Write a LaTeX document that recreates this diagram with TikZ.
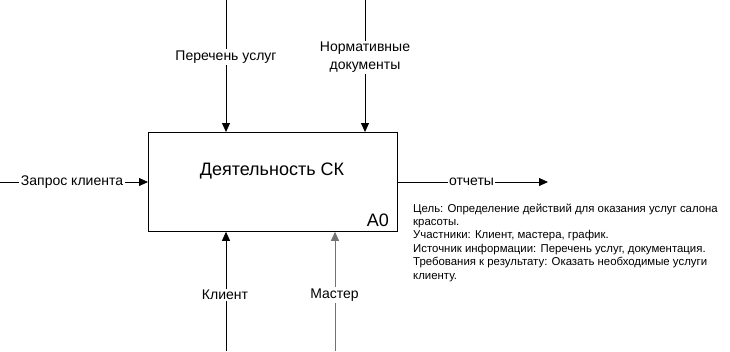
\documentclass[tikz,border=0pt]{standalone}
\usepackage{fontspec}
\setmainfont{Liberation Sans}
\usetikzlibrary{arrows.meta}
\begin{document}
\begin{tikzpicture}[x=1pt,y=-1pt,
  arr/.style={draw=black,line width=0.8pt,-{Triangle[length=9pt,width=8pt]}},
  lbl/.style={fill=white,inner sep=1.5pt,font=\fontsize{14}{18}\selectfont,align=center},
  notetext/.style={anchor=north west,inner sep=0pt,align=left,font=\fontsize{11.4}{13.4}\selectfont}]
\useasboundingbox (0,0) rectangle (730,351);
\node[draw,line width=0.8pt,minimum width=249pt,minimum height=99pt,inner sep=0pt,anchor=north west] (box) at (148,132) {};
\node[font=\fontsize{18}{21}\selectfont] (title) at (272,171) {Деятельность СК};
\node[font=\fontsize{18}{21}\selectfont,anchor=south east,inner sep=0pt] (num) at (389,227) {A0};
% top inputs
\coordinate (t1) at (226,0);
\coordinate (t2) at (365,0);
\draw[arr] (t1) -- (box.north west -| t1);
\draw[arr] (t2) -- (box.north west -| t2);
\node[lbl] (l1) at (226,57) {Перечень услуг};
\node[lbl] (l2) at (365,57.5) {Нормативные\\документы};
% bottom
\coordinate (b1) at (226,351);
\coordinate (b2) at (335,351);
\draw[arr] (b1) -- (box.south west -| b1);
\draw[arr,draw=black!55] (b2) -- (box.south west -| b2);
\node[lbl] (l3) at (225,295) {Клиент};
\node[lbl] (l4) at (334.5,295) {Мастер};
% left
\coordinate (in) at (0,182);
\draw[arr] (in) -- (box.west |- in);
\node[lbl] (l5) at (72,182) {Запрос клиента};
% right
\coordinate (out) at (548,182);
\draw[arr] (box.east |- out) -- (out);
\node[lbl] (l6) at (471.5,182) {отчеты};
% note
\node[notetext] (note) at (413,203.5) {Цель: Определение действий для оказания услуг салона\\красоты.\\Участники: Клиент, мастера, график.\\Источник информации: Перечень услуг, документация.\\Требования к результату: Оказать необходимые услуги\\клиенту.};
\end{tikzpicture}
\end{document}
